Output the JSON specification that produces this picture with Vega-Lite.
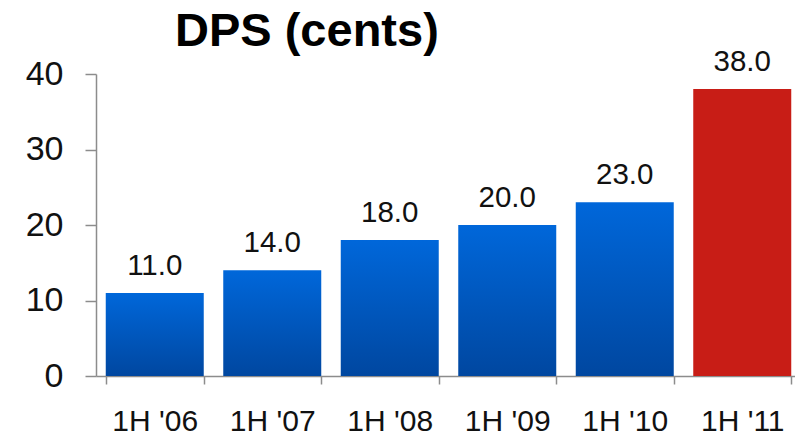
{
  "$schema": "https://vega.github.io/schema/vega-lite/v6.json",
  "autosize": {"type": "none"},
  "padding": {"left": 96, "top": 74, "right": 0, "bottom": 60},
  "width": 705,
  "height": 302,
  "background": "white",
  "title": {
    "text": "DPS (cents)",
    "font": "Liberation Sans",
    "fontSize": 47,
    "fontWeight": "bold",
    "color": "#000000",
    "anchor": "start",
    "frame": "group",
    "dx": 79,
    "offset": -9
  },
  "data": {
    "values": [
      {"period": "1H '06", "dps": 11.0},
      {"period": "1H '07", "dps": 14.0},
      {"period": "1H '08", "dps": 18.0},
      {"period": "1H '09", "dps": 20.0},
      {"period": "1H '10", "dps": 23.0},
      {"period": "1H '11", "dps": 38.0}
    ]
  },
  "config": {
    "view": {"stroke": null},
    "axis": {
      "grid": false,
      "domainColor": "#8c8c8c",
      "tickColor": "#8c8c8c",
      "domainWidth": 1.5,
      "tickWidth": 1.5,
      "labelFont": "Liberation Sans",
      "labelColor": "#111111",
      "title": null
    }
  },
  "encoding": {
    "x": {
      "field": "period",
      "type": "nominal",
      "sort": null,
      "scale": {"paddingInner": 0.166, "paddingOuter": 0.083},
      "axis": {
        "labelAngle": 0,
        "labelFontSize": 30,
        "tickBand": "extent",
        "tickSize": 8,
        "labelPadding": 22,
        "title": null
      }
    },
    "y": {
      "field": "dps",
      "type": "quantitative",
      "scale": {"domain": [0, 40], "nice": false},
      "axis": {
        "values": [0, 10, 20, 30, 40],
        "labelFontSize": 34,
        "tickSize": 11,
        "labelPadding": 22,
        "title": null
      }
    }
  },
  "layer": [
    {
      "mark": {"type": "bar"},
      "encoding": {
        "color": {
          "condition": {"test": "datum.period === \"1H '11\"", "value": "#c81d16"},
          "value": {
            "gradient": "linear",
            "x1": 0, "y1": 0, "x2": 0, "y2": 1,
            "stops": [
              {"offset": 0, "color": "#0067da"},
              {"offset": 1, "color": "#0047a0"}
            ]
          }
        }
      }
    },
    {
      "mark": {"type": "text", "font": "Liberation Sans", "fontSize": 29.5, "color": "#111111", "baseline": "alphabetic", "dy": -18},
      "encoding": {
        "text": {"field": "dps", "type": "quantitative", "format": ".1f"}
      }
    }
  ]
}
